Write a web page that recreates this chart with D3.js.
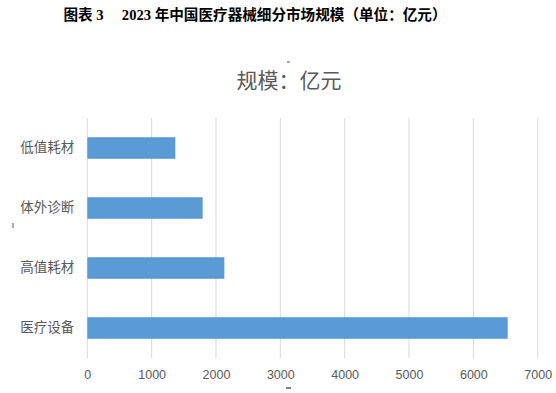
<!DOCTYPE html>
<html>
<head>
<meta charset="utf-8">
<script src="https://cdn.jsdelivr.net/npm/d3@7"></script>
<style>
  body { margin: 0; background: #fff; }
  svg text { font-family: "Noto Sans CJK SC", "Noto Sans", sans-serif; }
</style>
</head>
<body>
<script>
// data
var categories = ["低值耗材", "体外诊断", "高值耗材", "医疗设备"];
var values = [1368, 1793, 2130, 6534];
var xTicks = [0, 1000, 2000, 3000, 4000, 5000, 6000, 7000];

var width = 556, height = 393;
var margin = {left: 87.3, right: 18.3, top: 118, bottom: 35};

var svg = d3.select("body").append("svg")
  .attr("width", width)
  .attr("height", height);

// page heading
svg.append("text")
  .attr("x", 255)
  .attr("y", 20)
  .attr("text-anchor", "middle")
  .style("font-family", '"Liberation Serif", "Noto Sans CJK SC", serif')
  .style("font-weight", "bold")
  .style("font-size", "14.6px")
  .attr("fill", "#000")
  .text("图表 3\u2003 2023 年中国医疗器械细分市场规模（单位：亿元）");

// chart title
svg.append("text")
  .attr("x", 289)
  .attr("y", 88)
  .attr("text-anchor", "middle")
  .style("font-size", "21px")
  .attr("fill", "#595959")
  .text("规模：亿元");

// stray marks in the scan
svg.append("line").attr("x1", 287).attr("x2", 290).attr("y1", 62).attr("y2", 62).attr("stroke", "#555");
svg.append("line").attr("x1", 13).attr("x2", 13).attr("y1", 223).attr("y2", 228).attr("stroke", "#555");
svg.append("line").attr("x1", 286).attr("x2", 291).attr("y1", 388).attr("y2", 388).attr("stroke", "#555").attr("stroke-width", 1.5);

var x = d3.scaleLinear()
  .domain([0, 7000])
  .range([margin.left, width - margin.right]);

var y = d3.scaleBand()
  .domain(categories)
  .range([margin.top, height - margin.bottom])
  .paddingInner(0.64)
  .paddingOuter(0.32);

// gridlines
svg.selectAll(".grid")
  .data(xTicks)
  .enter()
  .append("line")
  .attr("class", "grid")
  .attr("x1", function(d){ return x(d); })
  .attr("x2", function(d){ return x(d); })
  .attr("y1", margin.top)
  .attr("y2", height - margin.bottom)
  .attr("stroke", "#d9d9d9")
  .attr("stroke-width", 1);

// bars
svg.selectAll(".bar")
  .data(values)
  .enter()
  .append("rect")
  .attr("class", "bar")
  .attr("x", x(0))
  .attr("y", function(d, i){ return y(categories[i]); })
  .attr("width", function(d){ return x(d) - x(0); })
  .attr("height", y.bandwidth())
  .attr("fill", "#5b9bd5");

// x axis labels
var xAxis = d3.axisBottom(x)
  .tickValues(xTicks)
  .tickFormat(d3.format("d"))
  .tickSize(0)
  .tickPadding(12);

var gx = svg.append("g")
  .attr("transform", "translate(0," + (height - margin.bottom) + ")")
  .call(xAxis);
gx.select(".domain").remove();
gx.selectAll("text")
  .style("font-size", "12.5px")
  .style("font-family", '"Liberation Sans", "Noto Sans", sans-serif')
  .attr("fill", "#595959");

// y axis labels
var yAxis = d3.axisLeft(y)
  .tickSize(0)
  .tickPadding(13);

var gy = svg.append("g")
  .attr("transform", "translate(" + margin.left + ",0)")
  .call(yAxis);
gy.select(".domain").remove();
gy.selectAll("text")
  .style("font-size", "13.5px")
  .attr("fill", "#595959");
</script>
</body>
</html>
